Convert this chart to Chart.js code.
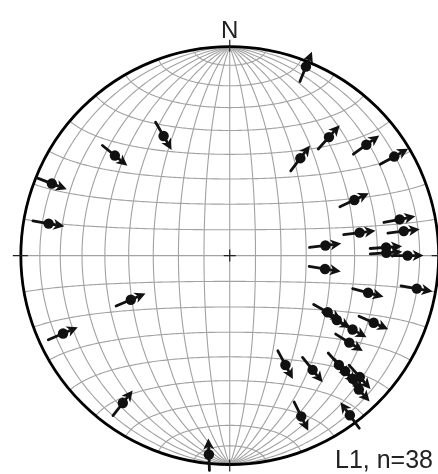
<!DOCTYPE html>
<html><head><meta charset="utf-8">
<script src="https://cdn.jsdelivr.net/npm/chart.js@4/dist/chart.umd.min.js"></script>
<style>html,body{margin:0;padding:0;background:#fff;} #wrap{position:relative;width:438px;height:474px;}</style>
</head><body><div id="wrap"><canvas id="c" width="438" height="474"></canvas></div>
<script>
// Lineation data (lower hemisphere): trend & plunge in degrees, arrow azimuth (sense) in degrees
const trends   = [331,311,292,280, 22, 36, 40, 51, 59, 66, 78, 82, 80, 84, 87, 89, 90, 98,105,100,120,121,121,115,126,153,144,135,135,135,133,136,156,143,246,245,216,186];
const plunges  = [ 35, 28,  9, 13,  3, 42, 27, 17,  9, 35, 18, 17, 37, 52, 26, 26, 16, 52, 32, 10, 45, 40, 32, 25, 30, 41, 33, 27, 23, 18, 16, 12, 17,  5, 47, 13, 14,  5];
const arrowAz  = [150,129,111,100, 22, 37, 42, 54, 61, 65, 79, 83, 83, 83, 86, 86, 90, 99,105,100,119,119,119,114,122,152,141,138,138,138,138,138,154,324, 67, 67, 38,358];
const northLabel = 'N';
const caption = 'L1, n=38';
const gridStep = 10; // degrees

function project(n, e, d) { const f = 1 / Math.sqrt(1 + d); return {x: e * f, y: n * f}; }
const rad = Math.PI / 180;
const pts = trends.map((t, i) => {
  const p = plunges[i] * rad, tr = t * rad;
  return project(Math.cos(p) * Math.cos(tr), Math.cos(p) * Math.sin(tr), Math.sin(p));
});

const netPlugin = {
  id: 'net',
  beforeDatasetsDraw(chart) {
    const {ctx, scales: {x, y}} = chart;
    const px = v => x.getPixelForValue(v), py = v => y.getPixelForValue(v);
    ctx.save();
    ctx.strokeStyle = '#a2a2a2'; ctx.lineWidth = 1.1;
    const curve = f => { ctx.beginPath(); for (let k = 0; k <= 180; k++) { const s = f(k * Math.PI / 180); const q = project(s[0], s[1], s[2]); k ? ctx.lineTo(px(q.x), py(q.y)) : ctx.moveTo(px(q.x), py(q.y)); } ctx.stroke(); };
    for (let d = gridStep; d <= 90; d += gridStep) {
      const dd = d * rad;
      curve(t => [Math.cos(t), Math.sin(t) * Math.cos(dd), Math.sin(t) * Math.sin(dd)]);
      if (d < 90) curve(t => [Math.cos(t), -Math.sin(t) * Math.cos(dd), Math.sin(t) * Math.sin(dd)]);
    }
    for (let a = gridStep; a < 180; a += gridStep) {
      const aa = a * rad;
      curve(f => [Math.cos(aa), Math.sin(aa) * Math.cos(f), Math.sin(aa) * Math.sin(f)]);
    }
    // primitive circle
    const cx = px(0), cy = py(0), R = px(1) - px(0);
    ctx.strokeStyle = '#000'; ctx.lineWidth = 2.8;
    ctx.beginPath(); ctx.arc(cx, cy, R, 0, 2 * Math.PI); ctx.stroke();
    ctx.lineWidth = 1.2; ctx.strokeStyle = '#222';
    ctx.beginPath();
    ctx.moveTo(cx - 6, cy); ctx.lineTo(cx + 6, cy); ctx.moveTo(cx, cy - 6); ctx.lineTo(cx, cy + 6);
    ctx.moveTo(cx, cy - R - 7); ctx.lineTo(cx, cy - R + 5);
    ctx.moveTo(cx - R - 8, cy); ctx.lineTo(cx - R + 7, cy);
    ctx.moveTo(cx + R - 7, cy); ctx.lineTo(cx + R + 8, cy);
    ctx.moveTo(cx, cy + R - 5); ctx.lineTo(cx, cy + R + 7);
    ctx.stroke();
    ctx.restore();
  },
  afterDatasetsDraw(chart) {
    const {ctx, scales: {x, y}} = chart;
    const meta = chart.getDatasetMeta(0);
    ctx.save();
    ctx.strokeStyle = '#111'; ctx.fillStyle = '#111'; ctx.lineWidth = 2.8; ctx.lineCap = 'round';
    meta.data.forEach((el, i) => {
      const a = arrowAz[i] * rad, ux = Math.sin(a), uy = -Math.cos(a);
      const L = 16, H = 11, W = 5.5;
      ctx.beginPath(); ctx.moveTo(el.x - L * ux, el.y - L * uy); ctx.lineTo(el.x + (L - H + 2) * ux, el.y + (L - H + 2) * uy); ctx.stroke();
      const tx = el.x + L * ux, ty = el.y + L * uy, bx = el.x + (L - H) * ux, by = el.y + (L - H) * uy;
      ctx.beginPath(); ctx.moveTo(tx, ty); ctx.lineTo(bx - W * uy, by + W * ux); ctx.lineTo(bx + 3 * ux, by + 3 * uy); ctx.lineTo(bx + W * uy, by - W * ux); ctx.closePath(); ctx.fill();
    });
    const cx = x.getPixelForValue(0), cy = y.getPixelForValue(0), R = x.getPixelForValue(1) - cx;
    ctx.fillStyle = '#222';
    ctx.font = '24px "Liberation Sans", Arial, sans-serif'; ctx.textAlign = 'center'; ctx.textBaseline = 'alphabetic';
    ctx.fillText(northLabel, cx, cy - R - 9);
    ctx.font = '25px "Liberation Sans", Arial, sans-serif'; ctx.textAlign = 'right';
    ctx.fillText(caption, 433, 468);
    ctx.restore();
  }
};

new Chart(document.getElementById('c'), {
  type: 'scatter',
  data: { datasets: [{ data: pts, pointRadius: 5.2, pointBackgroundColor: '#111', pointBorderColor: '#111', pointBorderWidth: 0 }] },
  options: {
    responsive: false, animation: false, events: [],
    layout: { padding: 0 },
    plugins: { legend: { display: false }, tooltip: { enabled: false } },
    scales: {
      x: { type: 'linear', display: false, min: -230 / 214, max: 208 / 214 },
      y: { type: 'linear', display: false, min: -218 / 214, max: 256 / 214 }
    }
  },
  plugins: [netPlugin]
});
</script></body></html>
